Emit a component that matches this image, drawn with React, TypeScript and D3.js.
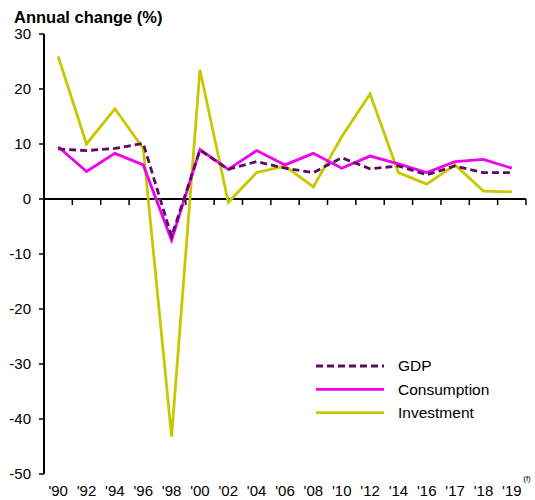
import { useMemo } from 'react'
import { scaleBand, scaleLinear, line } from 'd3'

const W = 535
const H = 500
const M = { top: 34, right: 9, bottom: 26, left: 44 }

const YEARS = ["'90", "'92", "'94", "'96", "'98", "'00", "'02", "'04", "'06", "'08", "'10", "'12", "'14", "'16", "'17", "'18", "'19"]
const GDP = [9.1, 8.8, 9.2, 10.1, -6.8, 8.9, 5.4, 6.8, 5.6, 4.8, 7.5, 5.5, 6.0, 4.4, 6.0, 4.8, 4.8]
const CONSUMPTION = [9.5, 5.0, 8.3, 6.2, -7.5, 9.0, 5.4, 8.8, 6.2, 8.3, 5.6, 7.8, 6.4, 4.8, 6.8, 7.2, 5.6]
const INVESTMENT = [25.9, 10.0, 16.4, 9.2, -43.2, 23.5, -0.6, 4.8, 6.0, 2.2, 11.3, 19.1, 4.8, 2.7, 6.2, 1.45, 1.3]
const Y_TICKS = [30, 20, 10, 0, -10, -20, -30, -40, -50]

const SERIES = [
  { key: 'GDP', values: GDP, color: '#5e0d5e', dash: '7,4' },
  { key: 'Consumption', values: CONSUMPTION, color: '#ee00ee', dash: undefined },
  { key: 'Investment', values: INVESTMENT, color: '#c9c800', dash: undefined },
]

const FONT = 'Liberation Sans, Arial, sans-serif'

export default function App() {
  const x = scaleBand<string>().domain(YEARS).range([M.left, W - M.right])
  const y = scaleLinear().domain([-50, 30]).range([H - M.bottom, M.top])
  const cx = (i: number) => (x(YEARS[i]) as number) + x.bandwidth() / 2

  const paths = useMemo(
    () =>
      SERIES.map((s) => ({
        ...s,
        d: line<number>()
          .x((_, i) => cx(i))
          .y((v) => y(v))(s.values) as string,
      })),
    []
  )

  // investment underneath, GDP on top
  const order = [paths[2], paths[1], paths[0]]

  return (
    <div style={{ position: 'absolute', left: 0, top: 0 }}>
      <svg width={W} height={H} style={{ display: 'block', fontFamily: FONT }}>
        <rect width={W} height={H} fill="#fff" />
        <text x={14} y={23} fontSize={16.5} fontWeight="bold" fill="#000">
          Annual change (%)
        </text>

        {/* y axis */}
        {Y_TICKS.map((t) => (
          <g key={t}>
            <line x1={M.left - 5} x2={M.left} y1={y(t)} y2={y(t)} stroke="#000" strokeWidth={1.5} />
            <text x={M.left - 13} y={y(t)} dy="0.35em" textAnchor="end" fontSize={15} fill="#000">
              {t}
            </text>
          </g>
        ))}
        <line x1={M.left} x2={M.left} y1={y(30)} y2={y(-50)} stroke="#000" strokeWidth={2} />

        {/* zero line with category ticks */}
        <line x1={M.left} x2={W - M.right} y1={y(0)} y2={y(0)} stroke="#000" strokeWidth={2} />
        {YEARS.map((yr) => {
          const bx = (x(yr) as number) + x.bandwidth()
          return <line key={yr} x1={bx} x2={bx} y1={y(0)} y2={y(0) + 6} stroke="#000" strokeWidth={1.5} />
        })}

        {order.map((s) => (
          <path
            key={s.key}
            d={s.d}
            fill="none"
            stroke={s.color}
            strokeWidth={2.8}
            strokeDasharray={s.dash}
          />
        ))}

        {/* x labels */}
        {YEARS.map((yr, i) => (
          <text key={yr} x={cx(i)} y={496} textAnchor="middle" fontSize={15} fill="#000">
            {yr}
          </text>
        ))}
        <text x={527} y={481} textAnchor="middle" fontSize={8} fill="#000">
          (f)
        </text>

        {/* legend */}
        {SERIES.map((s, i) => {
          const ly = 366 + i * 23.3
          return (
            <g key={s.key}>
              <line x1={316} x2={384} y1={ly} y2={ly} stroke={s.color} strokeWidth={2.8} strokeDasharray={s.dash} />
              <text x={398} y={ly} dy="0.35em" fontSize={15.5} fill="#000">
                {s.key}
              </text>
            </g>
          )
        })}
      </svg>
    </div>
  )
}
